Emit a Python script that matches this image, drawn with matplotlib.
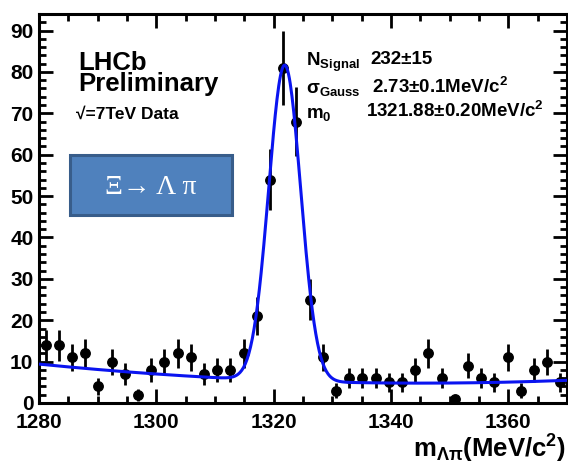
import numpy as np
import matplotlib
matplotlib.use("Agg")
import matplotlib.pyplot as plt
from matplotlib.patches import Rectangle
from matplotlib.ticker import MultipleLocator

# ---------------- data ----------------
hist_lo = 1280.0
bin_width = 2.25
counts = [14, 14, 11, 12, 4, 10, 7, 2, 8, 10,
          12, 11, 7, 8, 8, 12, 21, 54, 81, 68,
          25, 11, 3, 6, 6, 6, 5, 5, 8, 12,
          6, 1, 9, 6, 5, 11, 3, 8, 10, 5]

# fit parameters (signal from the legend, background)
n_signal = 232.0
sigma_gauss = 2.73
m0 = 1321.88
bkg_min = 4.8
bkg_min_pos = 1345.0
bkg_curv = 0.00109

x_range = (1280, 1370)
y_range = (0, 94)
x_ticks = [1280, 1300, 1320, 1340, 1360]
y_ticks = [0, 10, 20, 30, 40, 50, 60, 70, 80, 90]

# ---------------- style ----------------
plt.rcParams["mathtext.fontset"] = "custom"
plt.rcParams["mathtext.rm"] = "Liberation Sans:bold"
plt.rcParams["mathtext.it"] = "Liberation Sans:bold"
plt.rcParams["mathtext.bf"] = "Liberation Sans:bold"
plt.rcParams["font.family"] = ["Liberation Sans", "DejaVu Sans"]

W, H = 568, 467
fig = plt.figure(figsize=(W / 100, H / 100), dpi=100)
ax = fig.add_axes([39 / W, 1 - 403 / H, (567 - 39) / W, (403 - 14) / H])

counts = np.array(counts, dtype=float)
edges = hist_lo + bin_width * np.arange(len(counts) + 1)
centers = 0.5 * (edges[:-1] + edges[1:])
errs = np.sqrt(counts)

ax.errorbar(centers, counts, yerr=errs, fmt="o", color="black",
            markersize=6.8, elinewidth=2.0, capsize=0, zorder=3)

xf = np.linspace(x_range[0], x_range[1], 600)
amp = n_signal * bin_width / (np.sqrt(2 * np.pi) * sigma_gauss)
fit = amp * np.exp(-0.5 * ((xf - m0) / sigma_gauss) ** 2) + \
    bkg_min + bkg_curv * (xf - bkg_min_pos) ** 2
ax.plot(xf, fit, color="#0a14f0", lw=2.2, zorder=4)

ax.set_xlim(*x_range)
ax.set_ylim(*y_range)
ax.set_xticks(x_ticks)
ax.set_yticks(y_ticks)
ax.xaxis.set_minor_locator(MultipleLocator(5))
ax.yaxis.set_minor_locator(MultipleLocator(2))
ax.tick_params(which="both", direction="in", top=True, right=True, width=2.0)
ax.tick_params(which="major", length=10, labelsize=15)
ax.tick_params(axis="x", which="major", pad=7)
ax.tick_params(axis="y", which="major", pad=4)
ax.tick_params(which="minor", length=5)
for lab in ax.get_xticklabels() + ax.get_yticklabels():
    lab.set_fontweight("bold")
for s in ax.spines.values():
    s.set_linewidth(2.2)

# ---------------- texts ----------------
def fx(px):
    return px / W

def fy(py):
    return 1 - py / H

fig.text(fx(78), fy(51), "LHCb\nPreliminary", fontsize=18.5, fontweight="bold",
         va="top", ha="left", linespacing=0.83)
fig.text(fx(76), fy(119), "\u221a=7TeV Data", fontsize=12.5, fontweight="bold",
         va="baseline", ha="left", family=["Liberation Sans", "DejaVu Sans"])

box = Rectangle((fx(70), fy(215)), fx(232) - fx(70), fy(155) - fy(215),
                transform=fig.transFigure, facecolor="#4f81bd",
                edgecolor="#385d8a", lw=2.2, zorder=5)
fig.add_artist(box)
fig.text(fx(151), fy(187), "\u039e\u2192 \u039b \u03c0", fontsize=20, color="white",
         va="center", ha="center", family=["Liberation Serif", "DejaVu Serif"], zorder=6)

fs = 13.5
fig.text(fx(306), fy(62), r"N$_{\mathrm{Signal}}$", fontsize=fs, fontweight="bold",
         va="center", ha="left")
fig.text(fx(370), fy(60), "232\u00b115", fontsize=fs, fontweight="bold", va="center", ha="left")
fig.text(fx(306), fy(90), "\u03c3" + r"$_{\mathrm{Gauss}}$",
         fontsize=fs, fontweight="bold", va="center", ha="left")
fig.text(fx(372), fy(87), r"2.73$\pm$0.1MeV/c$^{2}$", fontsize=fs, fontweight="bold",
         va="center", ha="left")
fig.text(fx(306), fy(114), r"m$_{0}$", fontsize=fs, fontweight="bold", va="center", ha="left")
fig.text(fx(366), fy(111), r"1321.88$\pm$0.20MeV/c$^{2}$", fontsize=fs, fontweight="bold",
         va="center", ha="left")

fig.text(fx(566), fy(449), r"m$_{\Lambda\pi}$(MeV/c$^{2}$)", fontsize=18.5, fontweight="bold",
         va="center", ha="right")

fig.savefig("out.png", dpi=100)
